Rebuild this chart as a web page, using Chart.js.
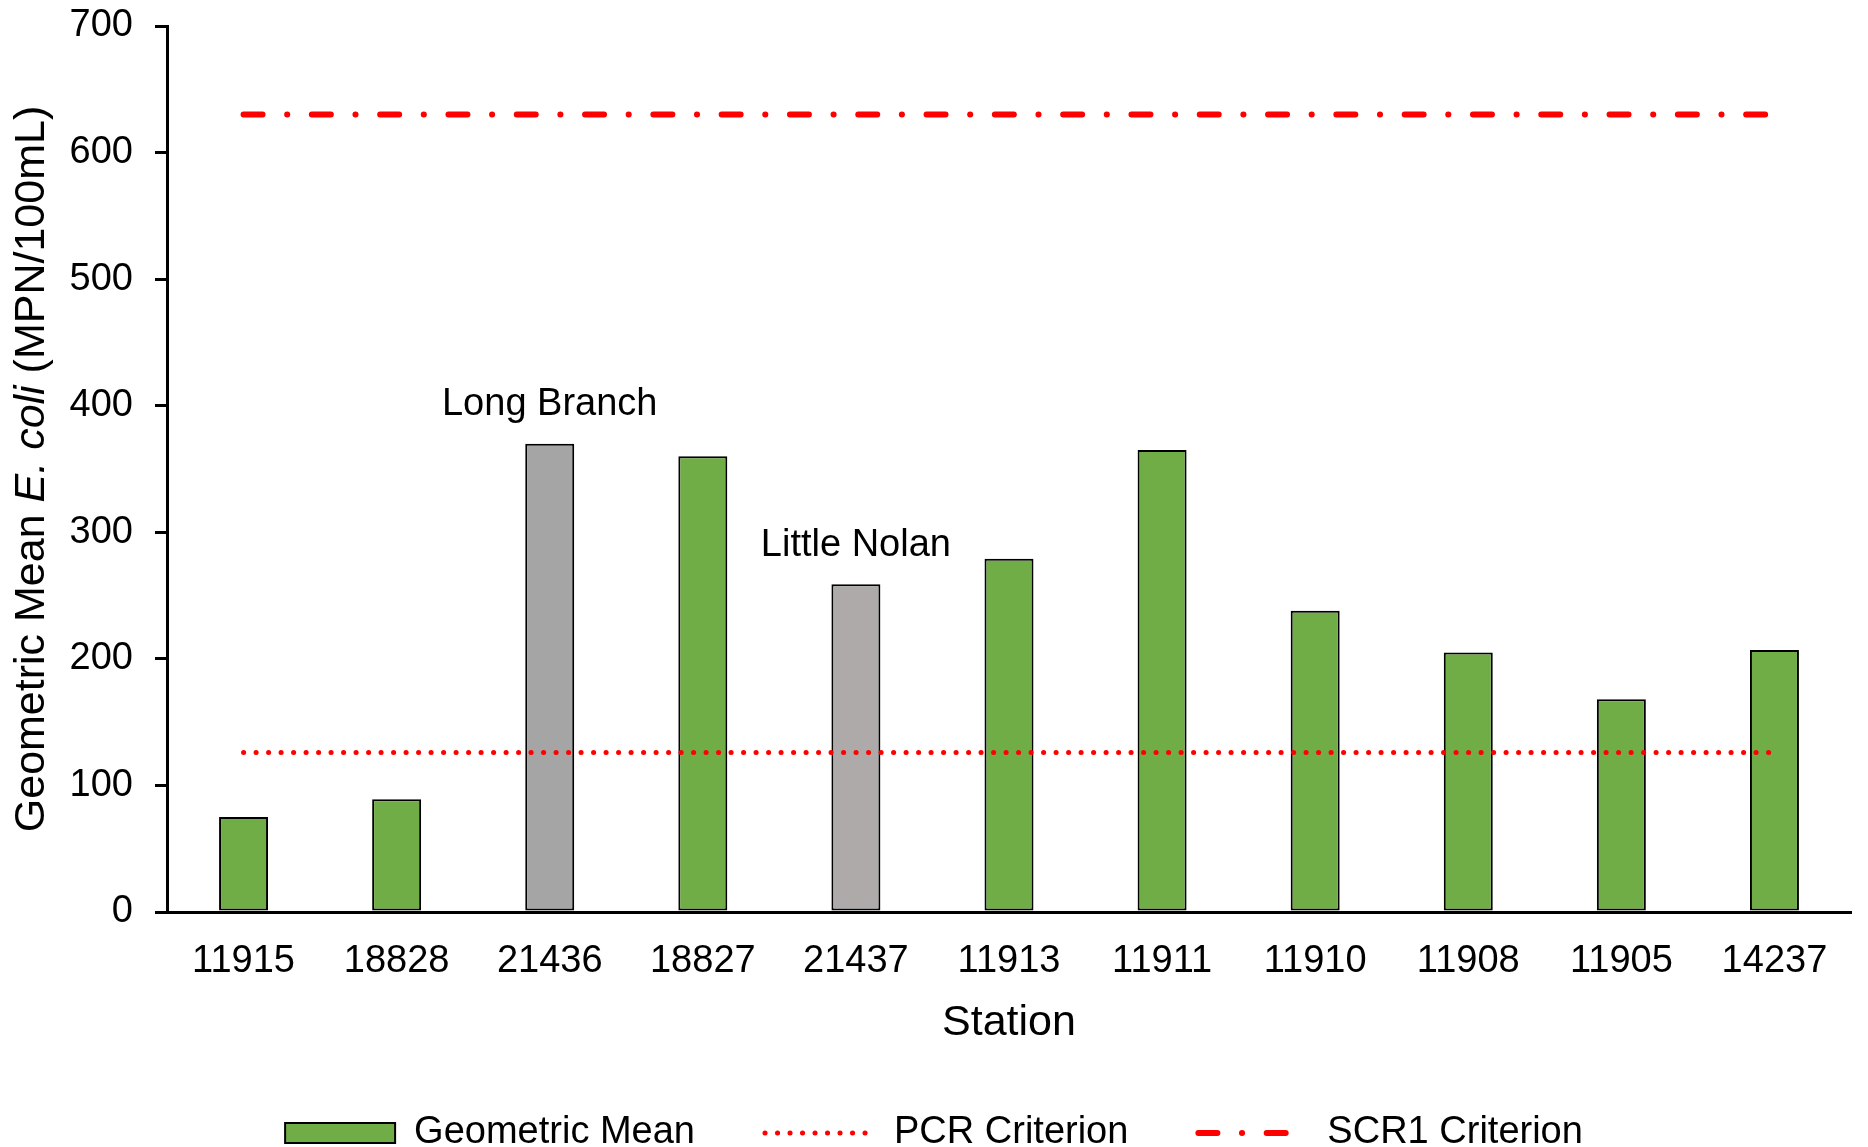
<!DOCTYPE html>
<html>
<head>
<meta charset="utf-8">
<script src="https://cdn.jsdelivr.net/npm/chart.js@4.4.1/dist/chart.umd.min.js"></script>
<style>
  html, body { margin: 0; padding: 0; background: #fff; }
  #wrap { width: 1868px; height: 1147px; position: relative; }
</style>
</head>
<body>
<div id="wrap"><canvas id="chart"></canvas></div>
<script>
// station data
const stations = ['11915', '18828', '21436', '18827', '21437', '11913', '11911', '11910', '11908', '11905', '14237'];
const geoMean = [75, 89, 370, 360, 259, 279, 365, 238, 205, 168, 207];
const barColors = ['#70AD47', '#70AD47', '#A5A5A5', '#70AD47', '#AEAAAA', '#70AD47', '#70AD47', '#70AD47', '#70AD47', '#70AD47', '#70AD47'];
const pcrCriterion = [126, 126, 126, 126, 126, 126, 126, 126, 126, 126, 126];
const scr1Criterion = [630, 630, 630, 630, 630, 630, 630, 630, 630, 630, 630];
const yTicks = [0, 100, 200, 300, 400, 500, 600, 700];
const notes = [
  { index: 2, text: 'Long Branch' },
  { index: 4, text: 'Little Nolan' }
];

const FONT = "'Liberation Sans', Arial, sans-serif";
const GREEN = '#70AD47';

// y-axis title with italic species name
const yTitlePlugin = {
  id: 'yTitle',
  afterDraw(chart) {
    const ctx = chart.ctx;
    const area = chart.chartArea;
    const parts = [
      { t: 'Geometric Mean ', f: '43px ' + FONT },
      { t: 'E. coli', f: 'italic 43px ' + FONT },
      { t: ' (MPN/100mL)', f: '43px ' + FONT }
    ];
    let total = 0;
    parts.forEach(p => { ctx.font = p.f; p.w = ctx.measureText(p.t).width; total += p.w; });
    ctx.save();
    ctx.translate(32, (area.top + area.bottom) / 2);
    ctx.rotate(-Math.PI / 2);
    ctx.fillStyle = '#000';
    ctx.textBaseline = 'middle';
    ctx.textAlign = 'left';
    let x = -total / 2;
    parts.forEach(p => { ctx.font = p.f; ctx.fillText(p.t, x, 0); x += p.w; });
    ctx.restore();
  }
};

// site name labels above the grey bars
const notesPlugin = {
  id: 'notes',
  afterDatasetsDraw(chart) {
    const ctx = chart.ctx;
    const xs = chart.scales.x, ys = chart.scales.y;
    ctx.save();
    ctx.font = '38px ' + FONT;
    ctx.fillStyle = '#000';
    ctx.textAlign = 'center';
    ctx.textBaseline = 'middle';
    notes.forEach(n => {
      const x = xs.getPixelForValue(n.index);
      const y = ys.getPixelForValue(geoMean[n.index]) - 39;
      ctx.fillText(n.text, x, y);
    });
    ctx.restore();
  }
};

const ctx = document.getElementById('chart').getContext('2d');
new Chart(ctx, {
  data: {
    labels: stations,
    datasets: [
      {
        type: 'bar',
        label: 'Geometric Mean',
        data: geoMean,
        backgroundColor: barColors,
        borderColor: '#000',
        borderWidth: 2,
        borderSkipped: false,
        barPercentage: 0.32,
        categoryPercentage: 1,
        order: 2
      },
      {
        type: 'line',
        label: 'PCR Criterion',
        data: pcrCriterion,
        borderColor: '#FF0000',
        borderWidth: 5,
        borderDash: [0.1, 12.4],
        borderCapStyle: 'round',
        pointRadius: 0,
        fill: false,
        order: 1
      },
      {
        type: 'line',
        label: 'SCR1 Criterion',
        data: scr1Criterion,
        borderColor: '#FF0000',
        borderWidth: 6,
        borderDash: [19, 24.6, 0.1, 24.6],
        borderCapStyle: 'round',
        pointRadius: 0,
        fill: false,
        order: 1
      }
    ]
  },
  options: {
    responsive: true,
    maintainAspectRatio: false,
    animation: false,
    layout: { padding: { left: 17, right: 17, top: 26, bottom: -15 } },
    plugins: {
      tooltip: { enabled: false },
      legend: {
        position: 'bottom',
        labels: {
          usePointStyle: true,
          pointStyleWidth: 110,
          boxHeight: 20,
          padding: 70,
          color: '#000',
          font: { family: FONT, size: 38 },
          sort: (a, b) => a.datasetIndex - b.datasetIndex,
          generateLabels(chart) {
            const items = Chart.defaults.plugins.legend.labels.generateLabels(chart);
            items.forEach(it => {
              const ds = chart.data.datasets[it.datasetIndex];
              if (ds.type === 'line') {
                it.pointStyle = 'line';
                it.lineDash = ds.borderDash;
                it.lineCap = ds.borderCapStyle;
                it.lineWidth = ds.borderWidth;
                it.strokeStyle = ds.borderColor;
              } else {
                it.pointStyle = 'rect';
                it.fillStyle = GREEN;
                it.strokeStyle = '#000';
                it.lineWidth = 2;
              }
            });
            return items;
          }
        }
      }
    },
    scales: {
      x: {
        grid: { display: false },
        border: { display: true, color: '#000', width: 3 },
        ticks: { color: '#000', padding: 19, maxRotation: 0, font: { family: FONT, size: 38 } },
        title: {
          display: true,
          text: 'Station',
          color: '#000',
          padding: { top: 0, bottom: -1 },
          font: { family: FONT, size: 43, lineHeight: 1 }
        },
        afterFit(scale) { scale.height = 132; }
      },
      y: {
        min: 0,
        max: 700,
        afterBuildTicks(scale) { scale.ticks = yTicks.map(v => ({ value: v })); },
        grid: { drawOnChartArea: false, drawTicks: true, tickLength: 12, color: '#000', lineWidth: 3 },
        border: { display: true, color: '#000', width: 3 },
        ticks: { color: '#000', padding: 22, font: { family: FONT, size: 38 } },
        title: { display: false },
        afterFit(scale) {
          scale.width = 150;
          // keep the label overflow from pushing the plot down
          scale.paddingTop = 0;
          scale.paddingBottom = 0;
        }
      }
    }
  },
  plugins: [yTitlePlugin, notesPlugin]
});
</script>
</body>
</html>
